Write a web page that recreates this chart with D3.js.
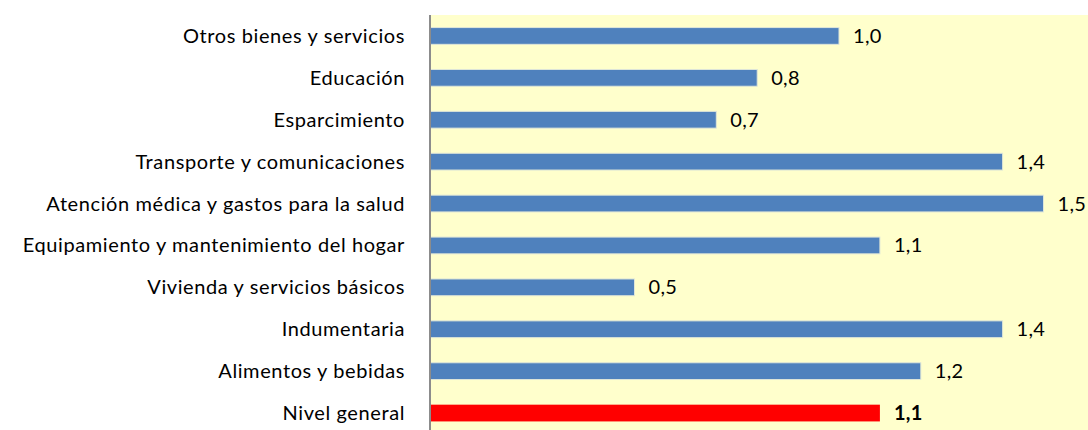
<!DOCTYPE html>
<html><head><meta charset="utf-8">
<script src="https://cdn.jsdelivr.net/npm/d3@7"></script>
<style>body{margin:0;background:#fff}</style>
</head><body>
<svg id="c" width="1088" height="430"></svg>
<script>
const categories = ["Otros bienes y servicios","Educación","Esparcimiento","Transporte y comunicaciones","Atención médica y gastos para la salud","Equipamiento y mantenimiento del hogar","Vivienda y servicios básicos","Indumentaria","Alimentos y bebidas","Nivel general"];
const values = [1.0,0.8,0.7,1.4,1.5,1.1,0.5,1.4,1.2,1.1];
const valueLabels = ["1,0","0,8","0,7","1,4","1,5","1,1","0,5","1,4","1,2","1,1"];
const highlight = "Nivel general";

(function(){
const svg = d3.select("#c");
const mLeft = 430, mTop = 15, mRight = 1088, mBottom = 434;
const x = d3.scaleLinear().domain([0, 1.5]).range([mLeft, 1043.5]);
const y = d3.scaleBand().domain(categories).range([mTop, mBottom]).paddingInner(0.6).paddingOuter(0.3);

svg.append("rect").attr("x", mLeft).attr("y", mTop).attr("width", mRight-mLeft).attr("height", 430-mTop).attr("fill", "#FFFFCC");

const font = "Lato, 'Open Sans', sans-serif";
svg.selectAll("rect.bar").data(categories).join("rect").attr("class","bar")
  .attr("x", x(0)).attr("y", d => y(d))
  .attr("width", (d,i) => x(values[i]) - x(0))
  .attr("height", y.bandwidth())
  .attr("fill", d => d === highlight ? "#FF0000" : "#4F81BD")
  .attr("stroke", d => d === highlight ? "none" : "#dfe6d8").attr("stroke-width", 1);

svg.append("line").attr("x1", mLeft).attr("x2", mLeft).attr("y1", mTop).attr("y2", 430)
  .attr("stroke", "#8c8c8c").attr("stroke-width", 2);

svg.selectAll("text.cat").data(categories).join("text").attr("class","cat")
  .attr("x", 405).attr("y", d => y(d) + y.bandwidth()/2 + 7)
  .attr("text-anchor","end")
  .attr("font-family", font).attr("font-size", 20).attr("letter-spacing", 0.6).attr("fill","#000")
  .text(d => d);

svg.selectAll("text.val").data(categories).join("text").attr("class","val")
  .attr("x", (d,i) => x(values[i]) + 14).attr("y", d => y(d) + y.bandwidth()/2 + 7)
  .attr("font-family", font).attr("font-size", 20).attr("letter-spacing", 0.3).attr("fill","#000")
  .attr("font-weight", d => d === highlight ? "bold" : "normal")
  .text((d,i) => valueLabels[i]);
})();
</script>
</body></html>
